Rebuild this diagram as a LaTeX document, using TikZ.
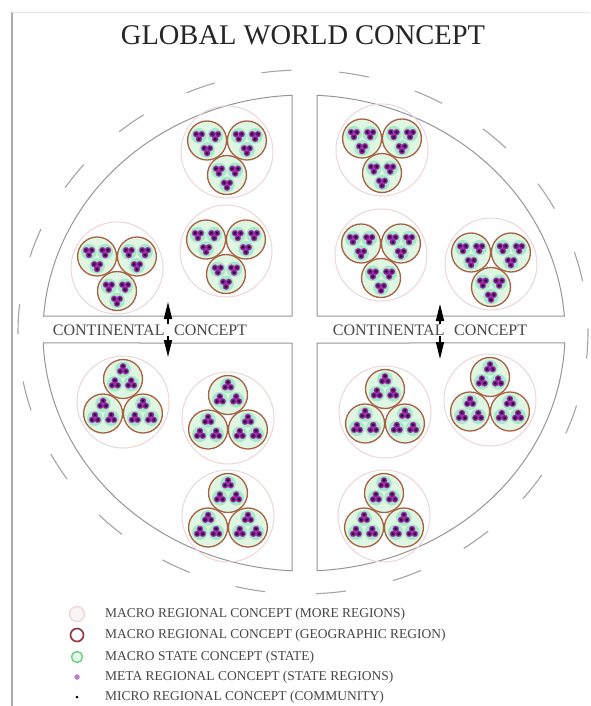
\documentclass[tikz,border=0pt]{standalone}
\usepackage{fontspec}
\setmainfont{Liberation Serif}
\usetikzlibrary{arrows.meta}
\definecolor{paleline}{RGB}{236,214,214}
\definecolor{redline}{RGB}{168,96,66}
\definecolor{legred}{RGB}{150,60,70}
\definecolor{stategreen}{RGB}{120,205,130}
\definecolor{statefill}{RGB}{165,232,200}
\definecolor{innerfill}{RGB}{222,246,226}
\definecolor{metapurple}{RGB}{120,28,140}
\definecolor{metaedge}{RGB}{190,60,190}
\definecolor{legpurple}{RGB}{185,125,205}
\definecolor{quadgray}{RGB}{150,150,150}
\definecolor{ringgray}{RGB}{165,165,165}
\definecolor{txtgray}{RGB}{70,70,70}
\tikzset{
  quadline/.style={draw=quadgray, line width=1pt},
  ringline/.style={draw=ringgray, line width=1.1pt, dash pattern=on 30pt off 48pt, dash phase=40pt},
  paleC/.style={draw=paleline, line width=1pt},
  redC/.style={draw=redline, line width=1.3pt},
  stateC/.style={fill=statefill},
  metaC/.style={fill=metapurple, draw=metaedge, line width=0.4pt},
  arrowC/.style={line width=1.4pt, {Triangle[length=17pt,width=8pt]}-{Triangle[length=17pt,width=8pt]}},
  conttext/.style={font=\fontsize{16}{18}\selectfont, text=txtgray, fill=white, inner sep=1pt},
  legtext/.style={font=\fontsize{13.5}{15}\selectfont, text=txtgray, anchor=west, inner sep=0pt},
}
\newcommand{\mycluster}[3]{%
  \begin{scope}[shift={(#1,#2)}]
    \draw[paleC] (0,0) circle[radius=46pt];
    \foreach \ia in {#3}{%
      \begin{scope}[shift={(\ia:23)}]
        \fill[innerfill] (0,0) circle[radius=19.5pt];
        \foreach \ib in {#3}{%
          \begin{scope}[shift={(\ib:9.4)}]
            \fill[stateC] (0,0) circle[radius=7.8pt];
            \foreach \ic in {#3}{%
              \filldraw[metaC] (\ic:3.2) circle[radius=3.0pt];
            }
            \foreach \ic in {#3}{%
              \fill[black] (\ic:3.4) circle[radius=1.1pt];
            }
          \end{scope}
        }
        \draw[redC] (0,0) circle[radius=19.5pt];
      \end{scope}
    }
  \end{scope}}
\begin{document}
\begin{tikzpicture}[x=1pt,y=-1pt]
\useasboundingbox (0,0) rectangle (590,706);
\fill[white] (0,0) rectangle (590,706);
% page border lines
\draw[gray!65, line width=1.6pt] (12,12) -- (12,706);
\draw[gray!20, line width=0.6pt] (12,12) -- (590,12);
% title
\node[font=\fontsize{28.5}{31}\selectfont, text=black!85] (title) at (303,35) {GLOBAL WORLD CONCEPT};
% geometry
\def\cx{304} \def\cy{333} \def\rx{261} \def\ry{238}
\def\xl{292} \def\xr{317} \def\yt{316} \def\yb{343}
\pgfmathsetmacro{\tA}{180+asin((\cy-\yt)/\ry)}
\pgfmathsetmacro{\tB}{360-acos((\xl-\cx)/\rx)}
\pgfmathsetmacro{\tC}{360-acos((\xr-\cx)/\rx)}
\pgfmathsetmacro{\tD}{360-asin((\cy-\yt)/\ry)}
\pgfmathsetmacro{\tE}{asin((\yb-\cy)/\ry)}
\pgfmathsetmacro{\tF}{acos((\xr-\cx)/\rx)}
\pgfmathsetmacro{\tG}{acos((\xl-\cx)/\rx)}
\pgfmathsetmacro{\tH}{180-asin((\yb-\cy)/\ry)}
% outer dashed ring
\draw[ringline] plot[domain=90:450, samples=240, smooth] ({303+285*cos(\x)},{332+262*sin(\x)});
% quadrants
\draw[quadline] plot[domain=\tA:\tB, samples=90] ({\cx+\rx*cos(\x)},{\cy+\ry*sin(\x)}) -- (\xl,\yt) -- cycle;
\draw[quadline] plot[domain=\tC:\tD, samples=90] ({\cx+\rx*cos(\x)},{\cy+\ry*sin(\x)}) -- (\xr,\yt) -- cycle;
\draw[quadline] plot[domain=\tE:\tF, samples=90] ({\cx+\rx*cos(\x)},{\cy+\ry*sin(\x)}) -- (\xr,\yb) -- cycle;
\draw[quadline] plot[domain=\tG:\tH, samples=90] ({\cx+\rx*cos(\x)},{\cy+\ry*sin(\x)}) -- (\xl,\yb) -- cycle;
% clusters: top quadrants (one circle below), bottom quadrants (one circle above)
\mycluster{227}{152}{90,210,330}
\mycluster{226}{251}{90,210,330}
\mycluster{117}{268}{90,210,330}
\mycluster{382}{150}{90,210,330}
\mycluster{381}{255}{90,210,330}
\mycluster{491}{264}{90,210,330}
\mycluster{123}{402}{270,30,150}
\mycluster{228}{418}{270,30,150}
\mycluster{228}{516}{270,30,150}
\mycluster{385}{412}{270,30,150}
\mycluster{490}{400}{270,30,150}
\mycluster{384}{516}{270,30,150}
% arrows and continental labels
\coordinate (aLt) at (168,302);
\coordinate (aLb) at (168,357);
\coordinate (aRt) at (440,304);
\coordinate (aRb) at (440,359);
\draw[arrowC] (aLt) -- (aLb);
\draw[arrowC] (aRt) -- (aRb);
\node[conttext] (contL) at (150,330) {CONTINENTAL\hspace{0.6em}CONCEPT};
\node[conttext] (contR) at (430,330) {CONTINENTAL\hspace{0.6em}CONCEPT};
% legend
\node[circle, draw=paleline, fill=paleline!25, line width=1.3pt, minimum size=15pt, inner sep=0pt] (lg1) at (77,614) {};
\node[circle, draw=legred, line width=1.7pt, minimum size=13pt, inner sep=0pt] (lg2) at (77,635) {};
\node[circle, draw=stategreen, line width=1.5pt, fill=statefill!30, minimum size=11pt, inner sep=0pt] (lg3) at (77,657) {};
\node[circle, fill=legpurple, minimum size=5.5pt, inner sep=0pt] (lg4) at (77,677) {};
\node[circle, fill=black, minimum size=3pt, inner sep=0pt] (lg5) at (77,697) {};
\node[legtext] (lt1) at (105,614) {MACRO REGIONAL CONCEPT (MORE REGIONS)};
\node[legtext] (lt2) at (105,635) {MACRO REGIONAL CONCEPT (GEOGRAPHIC REGION)};
\node[legtext] (lt3) at (105,657) {MACRO STATE CONCEPT (STATE)};
\node[legtext] (lt4) at (105,677) {META REGIONAL CONCEPT (STATE REGIONS)};
\node[legtext] (lt5) at (105,697) {MICRO REGIONAL CONCEPT (COMMUNITY)};
\end{tikzpicture}
\end{document}
